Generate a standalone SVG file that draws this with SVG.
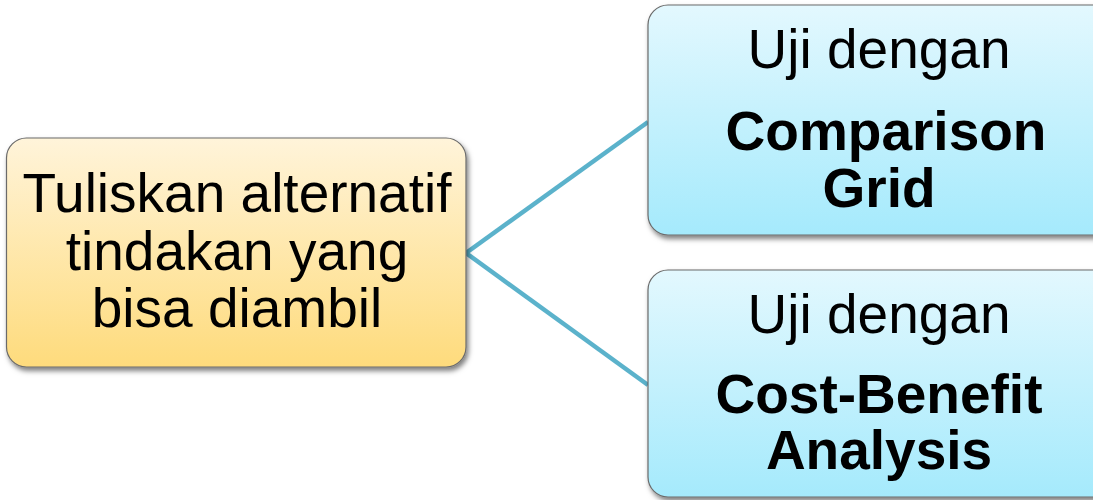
<svg xmlns="http://www.w3.org/2000/svg" width="1093" height="500" viewBox="0 0 1093 500">
  <defs>
    <linearGradient id="gradGold" x1="0" y1="0" x2="0" y2="1">
      <stop offset="0" stop-color="#fff4da"/>
      <stop offset="1" stop-color="#fedb7c"/>
    </linearGradient>
    <linearGradient id="gradSky" x1="0" y1="0" x2="0" y2="1">
      <stop offset="0" stop-color="#e3f8fe"/>
      <stop offset="1" stop-color="#a5eafc"/>
    </linearGradient>
    <filter id="shadow" x="-10%" y="-10%" width="120%" height="125%">
      <feDropShadow dx="2" dy="3.5" stdDeviation="2.5" flood-color="#000" flood-opacity="0.5"/>
    </filter>
    <style>
      .box { stroke: #6b6b6b; stroke-width: 1.2; filter: url(#shadow); }
      .gold { fill: url(#gradGold); }
      .sky { fill: url(#gradSky); }
      .lbl { font-family: "Liberation Sans", Arial, sans-serif; font-size: 55px; fill: #000; text-anchor: middle; }
      .b { font-weight: bold; }
      .link { stroke: #5bb2cb; stroke-width: 4.5; fill: none; }
    </style>
  </defs>
  <rect width="1093" height="500" fill="#fff"/>

  <!-- connectors -->
  <g id="connectors">
    <line class="link" x1="466" y1="253" x2="648" y2="122"/>
    <line class="link" x1="466" y1="253" x2="648" y2="385"/>
  </g>

  <!-- root node -->
  <g id="node-alternatif">
    <rect class="box gold" x="6.5" y="138" width="459.5" height="229" rx="20" ry="20"/>
    <text class="lbl" x="237" y="212">Tuliskan alternatif</text>
    <text class="lbl" x="237" y="270">tindakan yang</text>
    <text class="lbl" x="237" y="327">bisa diambil</text>
  </g>

  <!-- upper branch (runs past the right edge) -->
  <g id="node-comparison-grid">
    <rect class="box sky" x="648" y="5" width="470" height="230" rx="20" ry="20"/>
    <text class="lbl" x="879" y="68">Uji dengan</text>
    <text class="lbl b" x="886" y="150">Comparison</text>
    <text class="lbl b" x="879" y="207">Grid</text>
  </g>

  <!-- lower branch (runs past the right edge) -->
  <g id="node-cost-benefit">
    <rect class="box sky" x="648" y="270" width="470" height="227" rx="20" ry="20"/>
    <text class="lbl" x="879" y="333">Uji dengan</text>
    <text class="lbl b" x="879" y="413">Cost-Benefit</text>
    <text class="lbl b" x="879" y="469">Analysis</text>
  </g>
</svg>
